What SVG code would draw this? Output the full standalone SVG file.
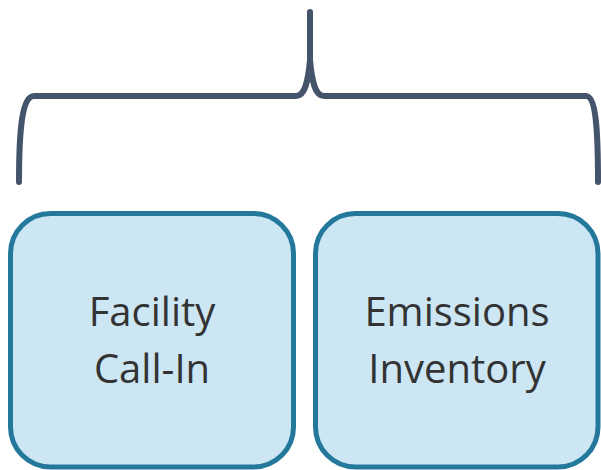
<svg xmlns="http://www.w3.org/2000/svg" width="601" height="470" viewBox="0 0 601 470">
<style>
.box{fill:#CCE6F3;stroke:#23789C;stroke-width:5}
.lbl{font-family:"Open Sans","Liberation Sans",sans-serif;font-size:40px;fill:#333333;text-anchor:middle}
.brace{fill:none;stroke:#44546A;stroke-width:6;stroke-linecap:round;stroke-linejoin:round}
</style>
<rect width="601" height="470" fill="#FFFFFF"/>
<g id="connectors">
<path class="brace" d="M19,182 C19,130 22,96 34,96 L296,96 C305,96 308,82 310,60 C312,82 315,96 324,96 L586,96 C596,96 598,130 598,182 M310,60 L310,12"/>
</g>
<g id="facility">
<rect class="box" x="10.5" y="213.5" width="283" height="253.5" rx="40"/>
<text class="lbl" x="152" y="326">Facility</text>
<text class="lbl" x="152" y="383">Call-In</text>
</g>
<g id="emissions">
<rect class="box" x="315.5" y="213.5" width="282.5" height="253.5" rx="40"/>
<text class="lbl" x="457" y="326">Emissions</text>
<text class="lbl" x="457" y="383">Inventory</text>
</g>
</svg>
